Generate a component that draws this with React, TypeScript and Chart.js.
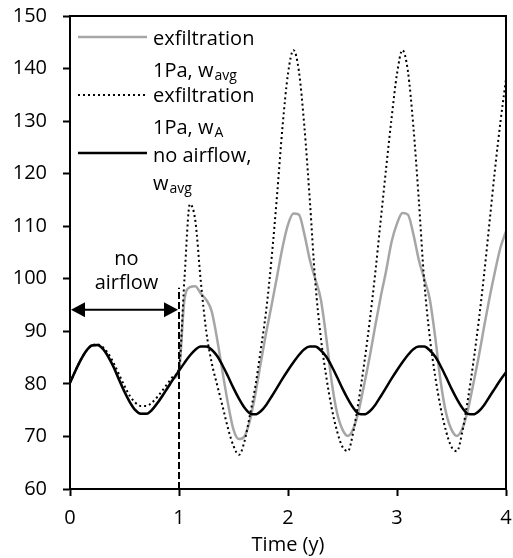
import React, { useEffect, useRef } from "react";
import { Chart, registerables } from "chart.js";

Chart.register(...registerables);

const FONT = '"Open Sans", "Noto Sans", sans-serif';

const times = [
  0, 0.05, 0.1, 0.15, 0.2, 0.25, 0.3, 0.35, 0.4, 0.45,
  0.5, 0.55, 0.6, 0.65, 0.7, 0.75, 0.8, 0.85, 0.9, 0.95,
  1, 1.05, 1.1, 1.15, 1.2, 1.25, 1.3, 1.35, 1.4, 1.45,
  1.5, 1.55, 1.6, 1.65, 1.7, 1.75, 1.8, 1.85, 1.9, 1.95,
  2, 2.05, 2.1, 2.15, 2.2, 2.25, 2.3, 2.35, 2.4, 2.45,
  2.5, 2.55, 2.6, 2.65, 2.7, 2.75, 2.8, 2.85, 2.9, 2.95,
  3, 3.05, 3.1, 3.15, 3.2, 3.25, 3.3, 3.35, 3.4, 3.45,
  3.5, 3.55, 3.6, 3.65, 3.7, 3.75, 3.8, 3.85, 3.9, 3.95,
  4,
];

const noAirflowAvg = [
  80.2, 82.5, 84.6, 86.3, 87.3, 87.4, 86.7, 85.2, 83.2, 80.8,
  78.5, 76.5, 75.0, 74.3, 74.3, 75.0, 76.3, 77.8, 79.4, 81.0,
  82.5, 84.0, 85.4, 86.5, 87.1, 87.1, 86.5, 85.3, 83.5, 81.4,
  79.2, 77.2, 75.5, 74.4, 74.2, 74.8, 76.0, 77.6, 79.3, 81.0,
  82.6, 84.1, 85.5, 86.6, 87.1, 87.1, 86.4, 85.2, 83.4, 81.3,
  79.1, 77.1, 75.4, 74.3, 74.2, 74.8, 76.0, 77.6, 79.3, 81.0,
  82.6, 84.1, 85.5, 86.6, 87.1, 87.1, 86.4, 85.2, 83.4, 81.3,
  79.1, 77.1, 75.4, 74.3, 74.2, 74.8, 76.0, 77.6, 79.2, 80.8,
  82.2,
];

const exfilAvg = [
  80.2, 82.5, 84.6, 86.3, 87.3, 87.4, 86.7, 85.2, 83.2, 80.8,
  78.5, 76.5, 75.0, 74.3, 74.3, 75.0, 76.3, 77.8, 79.4, 81.0,
  82.5, 96.0, 98.4, 98.6, 97.2, 96.0, 93.8, 88.5, 82.2, 76.2,
  71.3, 69.5, 70.0, 73.0, 78.0, 84.0, 89.8, 95.0, 100.5, 106.0,
  110.3, 112.4, 112.2, 108.5, 103.6, 100.0, 96.2, 89.0, 80.5, 74.5,
  71.3, 70.1, 71.5, 75.0, 80.0, 85.2, 91.0, 96.5, 101.5, 107.0,
  110.5, 112.5, 112.2, 108.5, 103.6, 100.0, 96.2, 89.0, 80.5, 74.5,
  71.3, 70.1, 71.5, 75.0, 80.0, 85.2, 91.0, 96.5, 101.5, 106.0,
  109.0,
];

const exfilA = [
  80.2, 82.5, 84.6, 86.3, 87.3, 87.5, 87.0, 85.8, 84.0, 81.8,
  79.6, 77.7, 76.4, 75.8, 75.8, 76.4, 77.5, 78.8, 80.2, 81.5,
  83.0, 100.0, 114.2, 111.0, 99.5, 90.0, 84.0, 79.8, 75.7, 71.5,
  68.2, 66.5, 69.0, 74.0, 79.5, 86.5, 94.0, 104.0, 116.0, 129.0,
  139.0, 143.5, 139.5, 129.0, 115.0, 99.5, 89.0, 81.5, 75.5, 71.0,
  68.0, 67.2, 71.0, 77.0, 84.0, 92.0, 101.0, 111.0, 121.0, 130.5,
  139.0, 143.5, 139.5, 129.0, 115.0, 99.5, 89.0, 81.5, 75.5, 71.0,
  68.0, 67.2, 71.0, 77.0, 84.0, 92.0, 101.0, 111.0, 121.0, 130.0,
  138.0,
];

const xTicks = [0, 1, 2, 3, 4];
const yTicks = [60, 70, 80, 90, 100, 110, 120, 130, 140, 150];

const GRAY = "#a6a6a6";

function pts(vals: number[]) {
  return times.map((t, i) => ({ x: t, y: vals[i] }));
}

function drawSubText(ctx: CanvasRenderingContext2D, x: number, y: number, main: string, sub: string) {
  ctx.font = `20px ${FONT}`;
  ctx.textAlign = "left";
  ctx.textBaseline = "alphabetic";
  ctx.fillText(main, x, y);
  const w = ctx.measureText(main).width;
  if (sub) {
    ctx.font = `14px ${FONT}`;
    ctx.fillText(sub, x + w + 1, y + 3);
  }
}

const decor = {
  id: "decor",
  afterDatasetsDraw(chart: any) {
    const { ctx, chartArea, scales } = chart;
    const xs = scales.x;
    const ys = scales.y;
    ctx.save();
    ctx.strokeStyle = "#000";
    ctx.lineWidth = 2;
    ctx.beginPath();
    ctx.moveTo(chartArea.left, chartArea.top);
    ctx.lineTo(chartArea.right, chartArea.top);
    ctx.lineTo(chartArea.right, chartArea.bottom);
    ctx.stroke();

    const x1 = xs.getPixelForValue(1);
    ctx.setLineDash([7, 3]);
    ctx.beginPath();
    ctx.moveTo(x1, ys.getPixelForValue(60));
    ctx.lineTo(x1, ys.getPixelForValue(98.3));
    ctx.stroke();
    ctx.setLineDash([]);

    const ay = ys.getPixelForValue(94.1);
    const x0 = xs.getPixelForValue(0);
    const hl = 14;
    const hh = 7.5;
    ctx.beginPath();
    ctx.moveTo(x0 + hl - 1, ay);
    ctx.lineTo(x1 - hl + 1, ay);
    ctx.stroke();
    ctx.fillStyle = "#000";
    ctx.beginPath();
    ctx.moveTo(x0 + 1, ay);
    ctx.lineTo(x0 + 1 + hl, ay - hh);
    ctx.lineTo(x0 + 1 + hl, ay + hh);
    ctx.closePath();
    ctx.fill();
    ctx.beginPath();
    ctx.moveTo(x1 - 1, ay);
    ctx.lineTo(x1 - 1 - hl, ay - hh);
    ctx.lineTo(x1 - 1 - hl, ay + hh);
    ctx.closePath();
    ctx.fill();

    ctx.font = `20px ${FONT}`;
    ctx.fillStyle = "#000";
    ctx.textAlign = "center";
    ctx.textBaseline = "alphabetic";
    const cx = (x0 + x1) / 2 + 2;
    ctx.fillText("no", cx, 265);
    ctx.fillText("airflow", cx, 289);

    const lx0 = 78;
    const lx1 = 147;
    const tx = 153;
    ctx.lineWidth = 2.5;
    ctx.strokeStyle = GRAY;
    ctx.beginPath();
    ctx.moveTo(lx0, 37);
    ctx.lineTo(lx1, 37);
    ctx.stroke();
    ctx.strokeStyle = "#000";
    ctx.lineWidth = 2;
    ctx.setLineDash([2, 3]);
    ctx.beginPath();
    ctx.moveTo(lx0, 95);
    ctx.lineTo(lx1, 95);
    ctx.stroke();
    ctx.setLineDash([]);
    ctx.lineWidth = 2.5;
    ctx.beginPath();
    ctx.moveTo(lx0, 153);
    ctx.lineTo(lx1, 153);
    ctx.stroke();

    ctx.fillStyle = "#000";
    drawSubText(ctx, tx, 45, "exfiltration", "");
    drawSubText(ctx, tx, 77, "1Pa, w", "avg");
    drawSubText(ctx, tx, 102, "exfiltration", "");
    drawSubText(ctx, tx, 134, "1Pa, w", "A");
    drawSubText(ctx, tx, 162, "no airflow,", "");
    drawSubText(ctx, tx, 190, "w", "avg");
    ctx.restore();
  },
};

export default function App() {
  const ref = useRef<HTMLCanvasElement>(null);
  useEffect(() => {
    if (!ref.current) return;
    const chart = new Chart(ref.current, {
      type: "line",
      data: {
        datasets: [
          {
            label: "no airflow, w_avg",
            data: pts(noAirflowAvg),
            borderColor: "#000",
            borderWidth: 2.5,
            pointRadius: 0,
            cubicInterpolationMode: "monotone",
            order: 0,
          },
          {
            label: "exfiltration 1Pa, w_A",
            data: pts(exfilA),
            borderColor: "#000",
            borderWidth: 2,
            borderDash: [2, 3],
            pointRadius: 0,
            cubicInterpolationMode: "monotone",
            order: 1,
          },
          {
            label: "exfiltration 1Pa, w_avg",
            data: pts(exfilAvg),
            borderColor: GRAY,
            borderWidth: 2.5,
            pointRadius: 0,
            cubicInterpolationMode: "monotone",
            order: 2,
          },
        ],
      },
      options: {
        animation: false,
        responsive: true,
        maintainAspectRatio: false,
        layout: { padding: { left: 0, top: 16, right: 7, bottom: 0 } },
        plugins: {
          legend: { display: false },
          tooltip: { enabled: false },
        },
        scales: {
          x: {
            type: "linear",
            min: 0,
            max: 4,
            afterFit(scale: any) {
              scale.height = 69;
              scale.paddingLeft = 0;
              scale.paddingRight = 0;
            },
            afterBuildTicks(scale: any) {
              scale.ticks = xTicks.map((v) => ({ value: v }));
            },
            border: { display: true, color: "#000", width: 2 },
            grid: {
              display: true,
              drawOnChartArea: false,
              drawTicks: true,
              tickLength: 7,
              tickColor: "#000",
              tickWidth: 2,
            },
            ticks: {
              color: "#000",
              font: { family: FONT, size: 20 },
              padding: 10,
              maxRotation: 0,
              callback: (v: any) => String(v),
            },
            title: {
              display: true,
              text: "Time (y)",
              color: "#000",
              font: { family: FONT, size: 20 },
              padding: { top: 0, bottom: 1 },
            },
          },
          y: {
            type: "linear",
            min: 60,
            max: 150,
            afterFit(scale: any) {
              scale.width = 70;
              scale.paddingTop = 0;
              scale.paddingBottom = 0;
            },
            afterBuildTicks(scale: any) {
              scale.ticks = yTicks.map((v) => ({ value: v }));
            },
            border: { display: true, color: "#000", width: 2 },
            grid: {
              display: true,
              drawOnChartArea: false,
              drawTicks: true,
              tickLength: 7,
              tickColor: "#000",
              tickWidth: 2,
            },
            ticks: {
              color: "#000",
              font: { family: FONT, size: 20 },
              padding: 16,
              callback: (v: any) => String(v),
            },
          },
        },
      },
      plugins: [decor],
    });
    return () => chart.destroy();
  }, []);
  return (
    <div style={{ position: "fixed", left: 0, top: 0, width: 513, height: 558, background: "#fff" }}>
      <canvas ref={ref} />
    </div>
  );
}
